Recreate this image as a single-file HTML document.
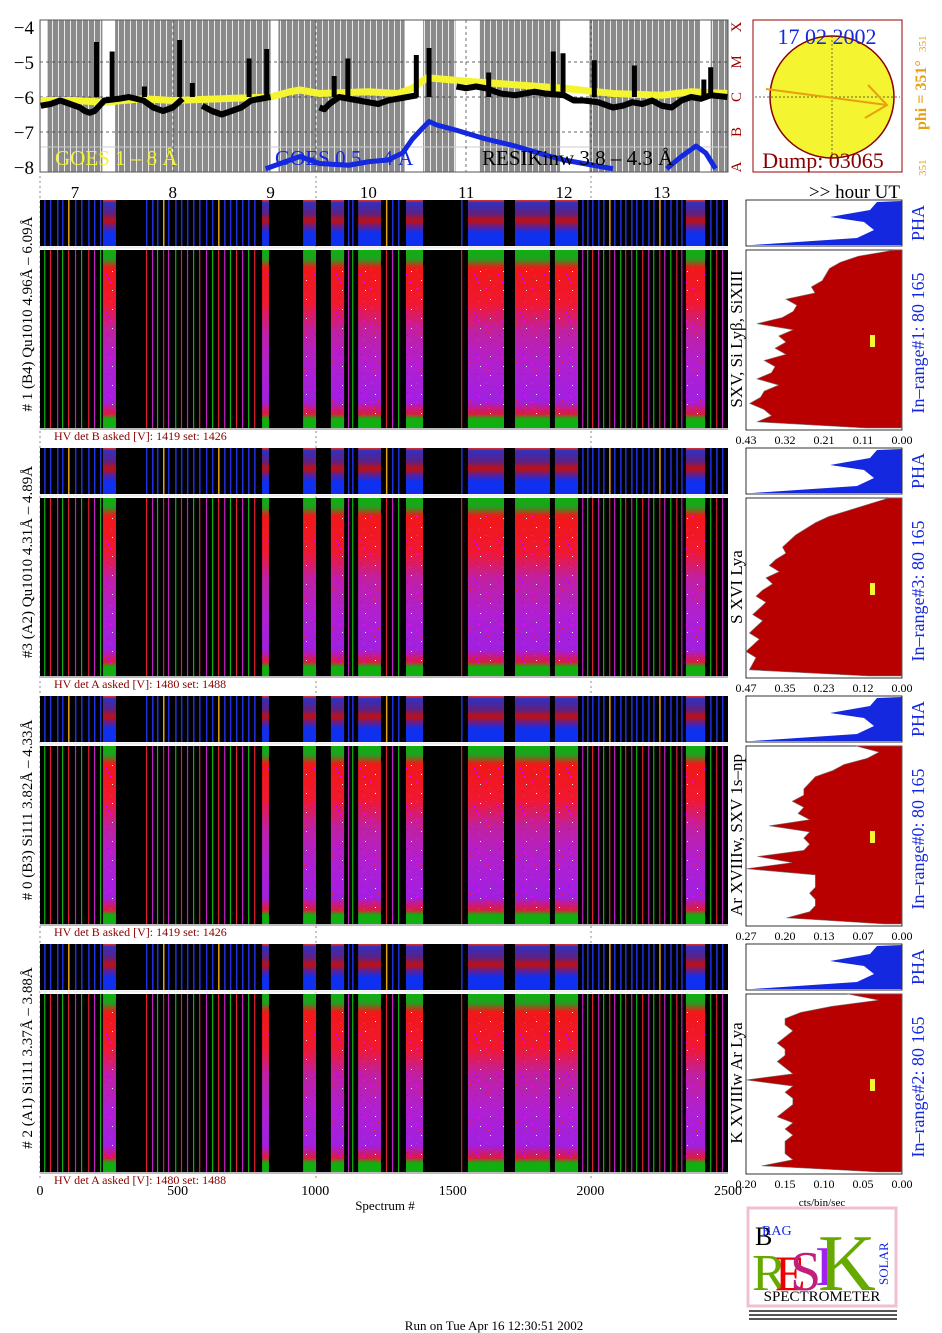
<!DOCTYPE html>
<html><head><meta charset="utf-8"><title>RESIK spectrometer</title>
<style>
body{margin:0;background:#fff;}
svg{display:block;font-family:"Liberation Serif",serif;}
</style></head>
<body>
<svg id="fig" width="942" height="1333" viewBox="0 0 942 1333" xmlns="http://www.w3.org/2000/svg">
<defs>
<pattern id="speck" width="23" height="19" patternUnits="userSpaceOnUse">
<rect x="2" y="3" width="2" height="1" fill="#f0f"/><rect x="14" y="8" width="2" height="1" fill="#c0f"/>
<rect x="7" y="14" width="1" height="1" fill="#fff"/><rect x="18" y="16" width="2" height="1" fill="#f0f"/>
<rect x="10" y="1" width="1" height="1" fill="#f22"/><rect x="20" y="5" width="1" height="1" fill="#fff"/>
<rect x="5" y="9" width="2" height="1" fill="#f22"/><rect x="16" y="12" width="1" height="1" fill="#90f"/>
</pattern>
<pattern id="grayStripe" width="6" height="10" patternUnits="userSpaceOnUse">
<rect x="0" y="0" width="6" height="10" fill="#8a8a8a"/><rect x="4" y="0" width="1" height="10" fill="#e8e8e8"/>
</pattern>
<linearGradient id="specGrad" x1="0" y1="0" x2="0" y2="1">
<stop offset="0" stop-color="#10b010"/><stop offset="0.05" stop-color="#20a020"/><stop offset="0.1" stop-color="#f01818"/>
<stop offset="0.3" stop-color="#f01830"/><stop offset="0.45" stop-color="#c020a0"/><stop offset="0.65" stop-color="#b020d0"/>
<stop offset="0.85" stop-color="#a020e0"/><stop offset="0.92" stop-color="#e01840"/><stop offset="0.95" stop-color="#10b010"/><stop offset="1" stop-color="#10b010"/>
</linearGradient>
<linearGradient id="stripGrad" x1="0" y1="0" x2="0" y2="1">
<stop offset="0" stop-color="#e03020"/><stop offset="0.06" stop-color="#3030c0"/><stop offset="0.3" stop-color="#602080"/>
<stop offset="0.45" stop-color="#c01010"/><stop offset="0.58" stop-color="#602090"/><stop offset="0.72" stop-color="#1030f0"/><stop offset="1" stop-color="#1030f0"/>
</linearGradient>
</defs>
</svg>
<script>
// ---- data ----
const hourTicks = [7,8,9,10,11,12,13];
const specTicks = [0,500,1000,1500,2000,2500];
const logTicks = [-4,-5,-6,-7,-8];
const classLabels = ['X','M','C','B','A'];
const blockStart = [229,807,956,1057,1156,1330,1555,1726,1871,2347];
const blockEnd   = [276,832,1003,1105,1239,1392,1686,1853,1955,2417];
const thinCols = [15,36,62,80,102,127,149,175,196,218,385,407,425,447,465,491,512,534,556,578,603,625,647,669,690,712,734,756,778,1119,1134,1257,1279,1301,1530,1970,1988,2006,2028,2046,2068,2086,2108,2126,2148,2166,2188,2210,2228,2250,2268,2290,2312,2330,2435,2457,2478];
// white (no-overlap) bands in the light-curve panel, in hours
const whiteStartH = [6.65,7.28,9.0,10.37,10.89,11.96,13.39];
const whiteEndH   = [6.72,7.41,9.08,10.56,11.14,12.26,13.5];
const goesLongH = [6.65,7.0,7.3,7.7,8.0,8.5,9.0,9.2,9.3,9.5,10.0,10.3,10.45,10.6,10.8,11.0,11.5,12.0,12.5,13.0,13.3,13.67];
const goesLongV = [-6.1,-6.1,-6.15,-6.05,-6.1,-6.05,-6.0,-5.85,-5.8,-5.9,-5.85,-5.9,-5.75,-5.45,-5.5,-5.55,-5.65,-5.75,-5.9,-5.95,-5.85,-5.9];
const goesShortH = [8.95,9.1,9.3,9.5,9.8,10.0,10.2,10.35,10.45,10.55,10.62,10.7,10.9,11.2,11.5,11.8,12.0,12.3,12.5];
const goesShortV = [-8.05,-7.9,-7.7,-7.9,-7.95,-7.85,-7.8,-7.6,-7.2,-6.9,-6.7,-6.8,-6.95,-7.2,-7.4,-7.65,-7.8,-7.95,-8.05];
const goesShort2H = [13.05,13.2,13.35,13.45,13.55];
const goesShort2V = [-8.05,-7.7,-7.4,-7.6,-8.05];
// RESIK baseline (hour, log flux)
const resikH = [6.65,6.75,6.85,7.0,7.05,7.1,7.15,7.2,7.3,7.45,7.55,7.7,7.8,7.9,8.0,8.1,8.3,8.4,8.5,8.6,8.7,8.8,9.0,9.5,9.55,9.6,9.7,9.8,9.9,10.0,10.1,10.2,10.3,10.4,10.5,10.9,11.0,11.1,11.2,11.35,11.5,11.6,11.7,11.8,12.0,12.1,12.2,12.35,12.5,12.6,12.7,12.8,12.9,13.0,13.1,13.2,13.3,13.4,13.5,13.67];
const resikV = [-6.25,-6.2,-6.1,-6.25,-6.3,-6.4,-6.45,-6.4,-6.1,-6.05,-6.0,-6.1,-6.3,-6.4,-6.3,-6.05,-6.25,-6.4,-6.5,-6.4,-6.3,-6.1,-6.0,-6.3,-6.35,-6.2,-6.0,-6.05,-6.1,-6.15,-6.2,-6.1,-6.05,-6.0,-5.95,-5.7,-5.75,-5.7,-5.75,-5.9,-5.95,-5.9,-5.85,-5.9,-5.95,-6.1,-6.1,-6.15,-6.3,-6.25,-6.15,-6.2,-6.1,-6.25,-6.3,-6.1,-6.0,-6.05,-5.95,-6.0];
// RESIK flare spikes (hour, peak log flux)
const spikeH = [7.22,7.38,7.71,8.07,8.2,8.78,8.96,9.65,9.79,10.49,10.62,11.23,11.89,11.99,12.31,12.72,13.43,13.5];
const spikeV = [-4.43,-4.7,-5.7,-4.37,-5.6,-4.9,-4.63,-5.4,-4.9,-4.8,-4.6,-5.3,-4.7,-4.75,-4.95,-5.1,-5.5,-5.15];
const histMax = [0.43,0.47,0.27,0.20];
const hist0 = [0.02,0.12,0.17,0.20,0.21,0.22,0.25,0.24,0.32,0.29,0.30,0.33,0.40,0.30,0.34,0.32,0.35,0.32,0.38,0.35,0.36,0.40,0.34,0.38,0.39,0.42,0.38,0.36,0.40,0.10];
const hist1 = [0.04,0.10,0.16,0.22,0.26,0.29,0.32,0.34,0.36,0.35,0.38,0.40,0.37,0.41,0.39,0.42,0.44,0.41,0.43,0.45,0.42,0.44,0.46,0.43,0.45,0.47,0.44,0.45,0.46,0.10];
const hist2 = [0.08,0.04,0.06,0.10,0.12,0.15,0.16,0.17,0.17,0.19,0.17,0.18,0.16,0.23,0.16,0.17,0.16,0.17,0.25,0.19,0.27,0.15,0.15,0.15,0.16,0.15,0.15,0.16,0.20,0.03];
const hist3 = [0.07,0.03,0.09,0.13,0.15,0.15,0.14,0.15,0.16,0.15,0.15,0.16,0.15,0.14,0.20,0.14,0.15,0.14,0.14,0.15,0.16,0.14,0.15,0.14,0.15,0.15,0.15,0.14,0.18,0.03];
const hists = [hist0,hist1,hist2,hist3];
const panelNames = ['# 1 (B4) Qu1010 4.96Å – 6.09Å','#3 (A2) Qu1010  4.31Å – 4.89Å','# 0 (B3) Si111  3.82Å – 4.33Å','# 2 (A1) Si111  3.37Å – 3.88Å'];
const lineNames = ['SXV, Si Lyβ, SiXIII','S XVI Lya','Ar XVIIIw,  SXV  1s–np','K XVIIIw  Ar Lya'];
const rangeNames = ['In–range#1:   80 165','In–range#3:   80 165','In–range#0:   80 165','In–range#2:   80 165'];
const hvText = ['HV det B asked [V]:  1419 set:  1426','HV det A asked [V]:  1480 set:  1488','HV det B asked [V]:  1419 set:  1426','HV det A asked [V]:  1480 set:  1488'];
const histTickLabels = [['0.43','0.32','0.21','0.11','0.00'],['0.47','0.35','0.23','0.12','0.00'],['0.27','0.20','0.13','0.07','0.00'],['0.20','0.15','0.10','0.05','0.00']];

const X0=40, X1=728;
const xs = s => X0 + (X1-X0)*s/2500;
const xh = h => 75 + (h-7)*97.8;
const ylog = v => 27 + (-4 - v)*35;

const svg = document.getElementById('fig');
const NS='http://www.w3.org/2000/svg';
function mk(tag, attrs, parent){const e=document.createElementNS(NS,tag);for(const k in attrs)e.setAttribute(k,attrs[k]);(parent||svg).appendChild(e);return e;}
function txt(str, attrs, parent){const e=mk('text',attrs,parent);e.textContent=str;return e;}

// ===== TOP PANEL =====
const topG = mk('g',{});


mk('rect',{x:40,y:20,width:688,height:152,fill:'url(#grayStripe)'},topG);
for(let i=0;i<whiteStartH.length;i++){
  const x=Math.max(40,xh(whiteStartH[i]));
  const r=mk('rect',{x:x,y:20,width:xh(whiteEndH[i])-x,height:152,fill:'#fff'},topG);
  
  
}
for(const v of [-5,-6,-7]){mk('line',{x1:40,x2:728,y1:ylog(v),y2:ylog(v),stroke:'#333','stroke-dasharray':'3,3','stroke-width':0.7},topG);}
mk('line',{x1:40,x2:728,y1:147,y2:147,stroke:'#ccc','stroke-width':1},topG);
for(const x of [173,316,466,591]){mk('line',{x1:x,x2:x,y1:20,y2:172,stroke:'#333','stroke-dasharray':'3,3','stroke-width':0.7},topG);}
function poly(H,V,attrs,name){const p=mk('polyline',Object.assign({points:H.map((h,i)=>xh(h)+','+ylog(V[i])).join(' '),fill:'none','stroke-linejoin':'round'},attrs),topG);return p;}
poly(goesLongH,goesLongV,{stroke:'#f4f430','stroke-width':7},'goes-long-line');
// RESIK baseline broken where gaps
let seg=[[],[]];
function flush(){if(seg[0].length>1){poly(seg[0],seg[1],{stroke:'#000','stroke-width':6},'resik-line');}seg=[[],[]];}
for(let i=0;i<resikH.length;i++){
  if(i>0 && resikH[i]-resikH[i-1]>0.2) flush();
  seg[0].push(resikH[i]);seg[1].push(resikV[i]);
}
flush();
spikeH.forEach((h,i)=>{
  const l=mk('line',{x1:xh(h),x2:xh(h),y1:ylog(-6.0),y2:ylog(spikeV[i]),stroke:'#000','stroke-width':5},topG);
  
  
});
poly(goesShortH,goesShortV,{stroke:'#1428e0','stroke-width':5},'goes-short-line');
poly(goesShort2H,goesShort2V,{stroke:'#1428e0','stroke-width':5},'goes-short-line-2');
mk('rect',{x:40,y:172,width:700,height:8,fill:'#fff'},topG);
mk('rect',{x:0,y:20,width:40,height:160,fill:'#fff'},topG);
mk('rect',{x:728,y:20,width:8,height:160,fill:'#fff'},topG);
mk('rect',{x:40,y:20,width:688,height:152,fill:'none',stroke:'#555','stroke-width':1},topG);
for(const v of logTicks){
  const t=txt(String(v).replace('-','−'),{x:34,y:ylog(v)+7,'text-anchor':'end','font-size':19},topG);
  
}
classLabels.forEach((c,i)=>{const y=ylog(-4-i);const t=txt(c,{x:0,y:0,'font-size':15,fill:'#900','text-anchor':'middle',transform:`translate(741,${y}) rotate(-90)`},topG);});
let t;
t=txt('GOES 1 – 8 Å',{x:55,y:165,'font-size':21,fill:'#f4f430'},topG);
t=txt('GOES 0.5 – 4 Å',{x:275,y:165,'font-size':21,fill:'#1428e0'},topG);
t=txt('RESIKinw 3.8 – 4.3 Å',{x:482,y:165,'font-size':21,fill:'#000'},topG);
hourTicks.forEach(h=>{const t=txt(String(h),{x:xh(h),y:198,'text-anchor':'middle','font-size':17},topG);});
for(const x of [40,316,591]){mk('line',{x1:x,x2:x,y1:176,y2:1180,stroke:'#888','stroke-dasharray':'2,3','stroke-width':1},topG);}
t=txt('>> hour UT',{x:900,y:198,'text-anchor':'end','font-size':19},topG);

const sun=mk('g',{});


mk('rect',{x:753,y:20,width:149,height:152,fill:'#fff',stroke:'#900','stroke-width':1},sun);
mk('ellipse',{cx:832,cy:97,rx:62,ry:61,fill:'#f4f430',stroke:'#800','stroke-width':1.5},sun);
mk('line',{x1:832,x2:832,y1:36,y2:160,stroke:'#333','stroke-dasharray':'2,2','stroke-width':0.7},sun);
mk('line',{x1:755,x2:900,y1:97,y2:97,stroke:'#333','stroke-dasharray':'2,2','stroke-width':0.7},sun);
mk('line',{x1:766,y1:89,x2:887,y2:105,stroke:'#e8a010','stroke-width':2},sun);
mk('polyline',{points:'868,85 887,105 865,118',fill:'none',stroke:'#e8a010','stroke-width':2},sun);
t=txt('17 02 2002',{x:827,y:44,'text-anchor':'middle','font-size':22,fill:'#1428e0'},sun);
t=txt('Dump: 03065',{x:823,y:168,'text-anchor':'middle','font-size':22,fill:'#800'},sun);
t=txt('phi = 351°',{x:0,y:0,'font-size':16,fill:'#e8a010','font-weight':'bold',transform:'translate(926,130) rotate(-90)'},sun);
t=txt('351',{x:0,y:0,'font-size':11,fill:'#e8a010',transform:'translate(926,52) rotate(-90)'},sun);
t=txt('351',{x:0,y:0,'font-size':11,fill:'#e8a010',transform:'translate(926,176) rotate(-90)'},sun);

for(let p=0;p<4;p++){
  const oy=p*248;
  const g=mk('g',{});
  
  
  const sT=200+oy, sH=46, mT=250+oy, mH=178;
  mk('rect',{x:40,y:sT,width:688,height:sH,fill:'#000'},g);
  mk('rect',{x:40,y:mT,width:688,height:mH,fill:'#000'},g);
  for(let i=0;i<blockStart.length;i++){
    const x=xs(blockStart[i]),w=xs(blockEnd[i])-x;
    const r1=mk('rect',{x:x,y:sT,width:w,height:sH,fill:'url(#stripGrad)'},g);
    
    
    const r2=mk('rect',{x:x,y:mT,width:w,height:mH,fill:'url(#specGrad)'},g);
    
    
    mk('rect',{x:x,y:mT+mH*0.1,width:w,height:mH*0.84,fill:'url(#speck)'},g);
  }
  thinCols.forEach((s,i)=>{
    const x=xs(s);
    const c1=mk('rect',{x:x,y:sT,width:1.5,height:sH,fill:(i%9===4)?'#e8a010':'#2030e0'},g);
    
    
    const c2=mk('rect',{x:x,y:mT,width:1.2,height:mH,fill:(i%3===0)?'#10b010':((i%3===1)?'#e02030':'#c020c0')},g);
    
    
  });
  mk('line',{x1:40,x2:728,y1:sT+sH+1.5,y2:sT+sH+1.5,stroke:'#eee','stroke-width':2},g);
  mk('rect',{x:40,y:mT+mH,width:688,height:2,fill:'#bbb'},g);
  let tt=txt(panelNames[p],{x:0,y:0,'font-size':15,'text-anchor':'middle',transform:`translate(32,${sT+(mT+mH-sT)/2}) rotate(-90)`},g);
  
  tt=txt(lineNames[p],{x:0,y:0,'font-size':17,'text-anchor':'middle',transform:`translate(742,${mT+mH/2}) rotate(-90)`},g);
  
  tt=txt(rangeNames[p],{x:0,y:0,'font-size':18,fill:'#1428e0','text-anchor':'middle',transform:`translate(924,${mT+mH/2+4}) rotate(-90)`},g);
  
  tt=txt('PHA',{x:0,y:0,'font-size':18,fill:'#1428e0','text-anchor':'middle',transform:`translate(924,${sT+sH/2}) rotate(-90)`},g);
  
  tt=txt(hvText[p],{x:54,y:mT+mH+12,'font-size':12,fill:'#800'},g);
  
  const hx0=746,hx1=902;
  mk('rect',{x:hx0,y:sT,width:hx1-hx0,height:sH,fill:'#fff',stroke:'#000','stroke-width':0.8},g);
  const ph=`M${hx1},${sT+1} L${hx1-25},${sT+2} L${hx1-32},${sT+10} L${hx1-72},${sT+17} L${hx1-38},${sT+22} L${hx1-28},${sT+30} L${hx1-45},${sT+38} L${hx1-150},${sT+45} L${hx1},${sT+45} Z`;
  const pp=mk('path',{d:ph,fill:'#1428e0'},g);
  
  mk('rect',{x:hx0,y:mT,width:hx1-hx0,height:mH+2,fill:'#fff',stroke:'#000','stroke-width':0.8},g);
  const hv=hists[p], n=hv.length, step=(mH)/(n-1);
  const hxs=v=>hx1-(hx1-hx0)*v/histMax[p];
  let d=`M${hx1},${mT}`;
  hv.forEach((v,i)=>{d+=` L${hxs(v)},${mT+i*step}`;});
  d+=` L${hx1},${mT+mH} Z`;
  const hp=mk('path',{d:d,fill:'#b80000',stroke:'#777','stroke-width':0.6},g);
  
  mk('rect',{x:870,y:mT+85,width:5,height:12,fill:'#f4f430'},g);
  histTickLabels[p].forEach((s,i)=>{
    const x=hx0+ (hx1-hx0)*i/4;
    const lt=txt(s,{x:x,y:mT+mH+16,'text-anchor':'middle','font-size':12},g);
    
  });
}
specTicks.forEach(s=>{const t=txt(String(s),{x:xs(s),y:1195,'text-anchor':'middle','font-size':14});});
t=txt('Spectrum #',{x:385,y:1210,'text-anchor':'middle','font-size':13});
t=txt('cts/bin/sec',{x:822,y:1206,'text-anchor':'middle','font-size':11});
t=txt('Run on Tue Apr 16 12:30:51 2002',{x:494,y:1330,'text-anchor':'middle','font-size':13});

const lg=mk('g',{});


mk('rect',{x:748,y:1208,width:148,height:98,fill:'#fff',stroke:'#f0c0d0','stroke-width':3},lg);
txt('B',{x:755,y:1245,'font-size':26},lg);
txt('RAG',{x:762,y:1235,'font-size':14,fill:'#1428e0'},lg);
txt('R',{x:752,y:1290,'font-size':52,fill:'#6a0'},lg);
txt('E',{x:775,y:1290,'font-size':50,fill:'#e00'},lg);
txt('S',{x:790,y:1290,'font-size':56,fill:'#c0207a'},lg);
txt('I',{x:815,y:1285,'font-size':56,fill:'#a020f0'},lg);
txt('K',{x:818,y:1290,'font-size':80,fill:'#6a0'},lg);
txt('SOLAR',{x:0,y:0,'font-size':13,fill:'#1428e0',transform:'translate(888,1285) rotate(-90)'},lg);
txt('SPECTROMETER',{x:822,y:1301,'text-anchor':'middle','font-size':15},lg);
for(let i=0;i<3;i++){mk('rect',{x:749,y:1310+i*4,width:148,height:2,fill:'#555'},lg);}
</script>
</body></html>
